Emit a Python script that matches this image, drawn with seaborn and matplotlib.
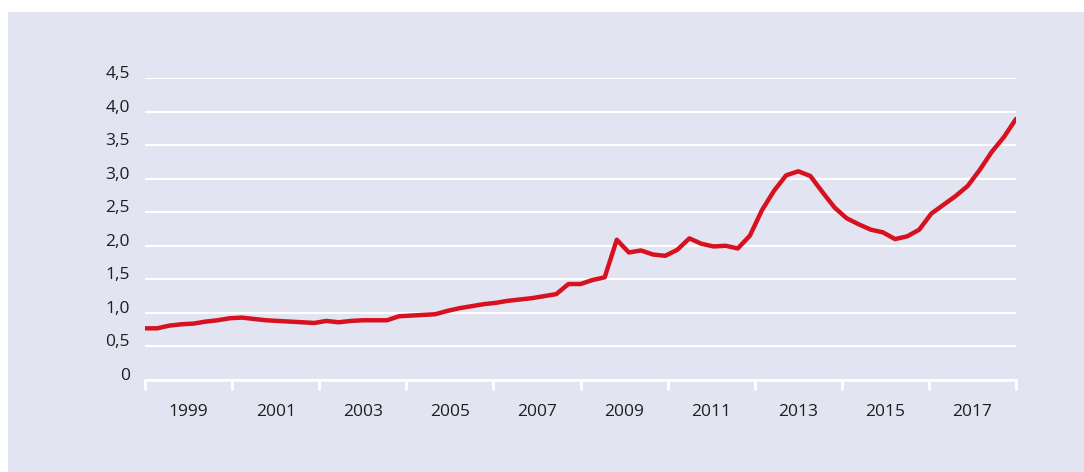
import numpy as np
import seaborn as sns
import matplotlib.pyplot as plt
from matplotlib.patches import Rectangle
from matplotlib.ticker import FuncFormatter

# quarterly values
values = [
    0.77, 0.77, 0.81, 0.83, 0.84, 0.87, 0.89, 0.92, 0.93, 0.91,
    0.89, 0.88, 0.87, 0.86, 0.85, 0.88, 0.86, 0.88, 0.89, 0.89,
    0.89, 0.95, 0.96, 0.97, 0.98, 1.03, 1.07, 1.10, 1.13, 1.15,
    1.18, 1.20, 1.22, 1.25, 1.28, 1.43, 1.43, 1.49, 1.53, 2.09,
    1.90, 1.93, 1.87, 1.85, 1.94, 2.11, 2.03, 1.99, 2.00, 1.96,
    2.15, 2.53, 2.82, 3.05, 3.11, 3.04, 2.80, 2.57, 2.41, 2.32,
    2.24, 2.20, 2.10, 2.14, 2.24, 2.48, 2.61, 2.74, 2.89, 3.13,
    3.40, 3.62, 3.89,
]
year_labels = ['1999', '2001', '2003', '2005', '2007',
               '2009', '2011', '2013', '2015', '2017']
y_ticks = [0, 0.5, 1.0, 1.5, 2.0, 2.5, 3.0, 3.5, 4.0, 4.5]

bg = '#e2e4f2'
red = '#d7111f'
text_col = '#1e1e1e'

sns.set_style("white")
plt.rcParams['font.family'] = ['Open Sans', 'DejaVu Sans']

fig = plt.figure(figsize=(10.84, 4.72), dpi=100, facecolor='white')
fig.patches.append(Rectangle((8 / 1084, 0), 1, (472 - 12) / 472,
                             transform=fig.transFigure, facecolor=bg,
                             edgecolor='none', zorder=-5))
ax = fig.add_axes([145 / 1084, (472 - 380) / 472,
                   (1016 - 145) / 1084, (380 - 78) / 472])
ax.set_facecolor('none')

x = np.arange(len(values))
sns.lineplot(x=x, y=values, color=red, linewidth=3.2, ax=ax, zorder=3)

n = len(values) - 1
major = np.linspace(0, n, len(year_labels) + 1)
minor = (major[:-1] + major[1:]) / 2
ax.set_xlim(0, n)
ax.set_ylim(0, 4.5)

ax.set_xticks(major)
ax.set_xticklabels([])
ax.set_xticks(minor, minor=True)
ax.set_xticklabels(year_labels, minor=True)
ax.tick_params(axis='x', which='major', length=7, width=2, color='white',
               direction='out', bottom=True)
ax.tick_params(axis='x', which='minor', length=0, pad=17,
               labelsize=12.5, labelcolor=text_col)

ax.set_yticks(y_ticks)
ax.yaxis.set_major_formatter(FuncFormatter(
    lambda v, p: '0' if v == 0 else f'{v:.1f}'.replace('.', ',')))
ax.tick_params(axis='y', length=0, pad=11, labelsize=12.5,
               labelcolor=text_col)
for lbl in ax.get_yticklabels():
    lbl.set_verticalalignment('baseline')

ax.grid(axis='y', color='white', linewidth=1.5)
ax.grid(axis='x', visible=False)
for side in ['top', 'right', 'left']:
    ax.spines[side].set_visible(False)
ax.spines['bottom'].set_color('white')
ax.spines['bottom'].set_linewidth(2)
ax.set_xlabel('')
ax.set_ylabel('')

plt.savefig('out.png', dpi=100, facecolor='white')
